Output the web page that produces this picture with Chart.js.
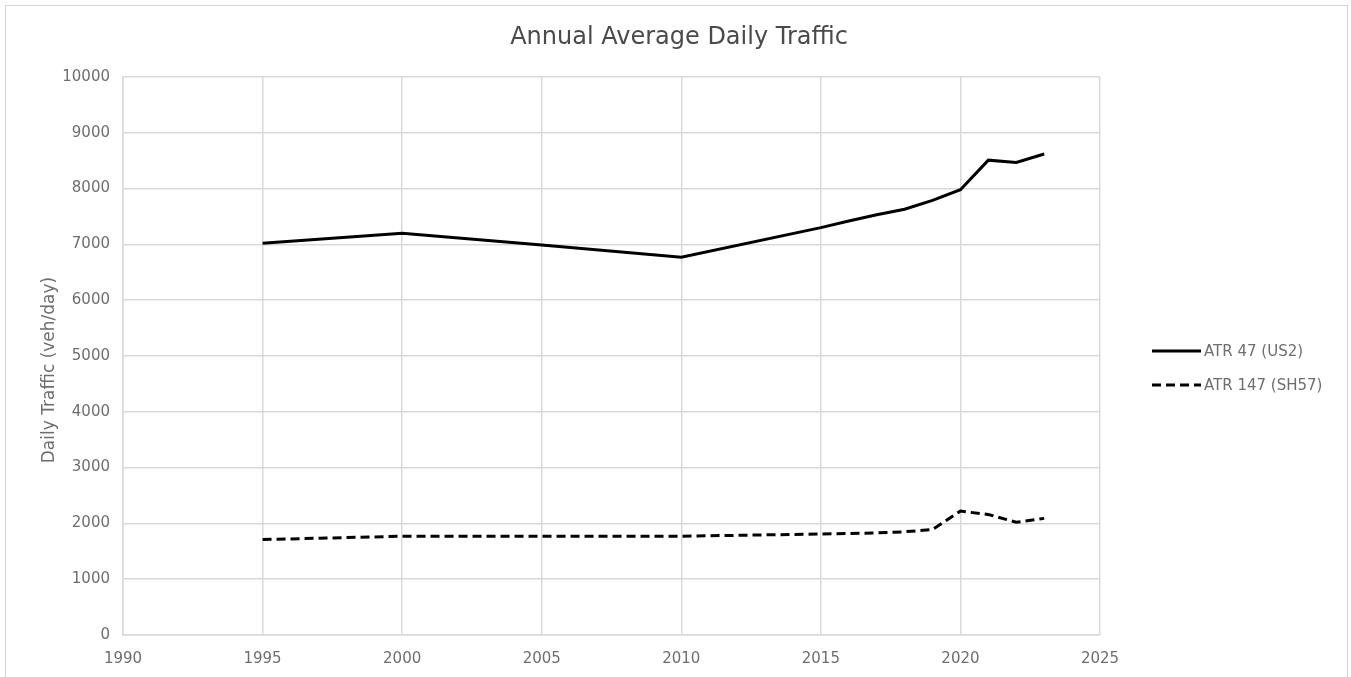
<!DOCTYPE html>
<html>
<head>
<meta charset="utf-8">
<script src="https://cdn.jsdelivr.net/npm/chart.js@4/dist/chart.umd.min.js"></script>
<style>
  html, body { margin: 0; padding: 0; background: #fff; }
  #frame { position: absolute; left: 5px; top: 5px; width: 1341px; height: 700px; border: 1px solid #d4d4d4; }
  #wrap { position: absolute; left: 0; top: 0; width: 1351px; height: 677px; }
</style>
</head>
<body>
<div id="frame"></div>
<div id="wrap"><canvas id="c" width="1351" height="677"></canvas></div>
<script>
const atr47Years  = [1995, 2000, 2005, 2010, 2015, 2016, 2017, 2018, 2019, 2020, 2021, 2022, 2023];
const atr47Values = [7020, 7200, 6990, 6770, 7300, 7420, 7530, 7630, 7790, 7980, 8510, 8470, 8620];
const atr147Years  = [1995, 2000, 2005, 2010, 2015, 2016, 2017, 2018, 2019, 2020, 2021, 2022, 2023];
const atr147Values = [1710, 1770, 1770, 1770, 1810, 1820, 1830, 1850, 1890, 2220, 2160, 2020, 2090];
const seriesLabels = ['ATR 47 (US2)', 'ATR 147 (SH57)'];
const chartTitle = 'Annual Average Daily Traffic';
const yAxisTitle = 'Daily Traffic (veh/day)';
const xTicks = [1990, 1995, 2000, 2005, 2010, 2015, 2020, 2025];
const yTicks = [0, 1000, 2000, 3000, 4000, 5000, 6000, 7000, 8000, 9000, 10000];

const textColor = '#6e6e6e';
const gridColor = '#d9d9d9';
const fontFamily = '"DejaVu Sans", "Liberation Sans", Arial, sans-serif';

const toPts = (xs, ys) => xs.map((x, i) => ({ x: x, y: ys[i] }));

const decorPlugin = {
  id: 'decor',
  afterDraw(chart) {
    const ctx = chart.ctx;
    ctx.save();
    // title
    ctx.fillStyle = '#4a4a4a';
    ctx.font = '24px ' + fontFamily;
    ctx.textAlign = 'center';
    ctx.textBaseline = 'middle';
    ctx.fillText(chartTitle, 679, 38);
    // y-axis title
    ctx.save();
    ctx.translate(50, 370);
    ctx.rotate(-Math.PI / 2);
    ctx.fillStyle = textColor;
    ctx.font = '17px ' + fontFamily;
    ctx.fillText(yAxisTitle, 0, 0);
    ctx.restore();
    // legend
    const x0 = 1152, x1 = 1201;
    const ys = [351, 385];
    chart.data.datasets.forEach((ds, i) => {
      ctx.beginPath();
      ctx.strokeStyle = ds.borderColor;
      ctx.lineWidth = ds.borderWidth;
      ctx.setLineDash(ds.borderDash || []);
      ctx.moveTo(x0, ys[i]);
      ctx.lineTo(x1, ys[i]);
      ctx.stroke();
      ctx.setLineDash([]);
      ctx.fillStyle = textColor;
      ctx.font = '15px ' + fontFamily;
      ctx.textBaseline = 'middle';
      ctx.textAlign = 'left';
      ctx.fillText(ds.label, x1 + 3, ys[i] + 1);
    });
    ctx.restore();
  }
};

new Chart(document.getElementById('c'), {
  type: 'line',
  data: {
    datasets: [
      {
        label: seriesLabels[0],
        data: toPts(atr47Years, atr47Values),
        borderColor: '#000',
        borderWidth: 3,
        pointRadius: 0,
        tension: 0,
        fill: false
      },
      {
        label: seriesLabels[1],
        data: toPts(atr147Years, atr147Values),
        borderColor: '#000',
        borderWidth: 3,
        borderDash: [9, 5],
        pointRadius: 0,
        tension: 0,
        fill: false
      }
    ]
  },
  options: {
    responsive: false,
    animation: false,
    layout: { padding: { left: 0, right: 251, top: 77, bottom: 0 } },
    plugins: {
      legend: { display: false },
      tooltip: { enabled: false },
      title: { display: false }
    },
    scales: {
      x: {
        type: 'linear',
        min: xTicks[0],
        max: xTicks[xTicks.length - 1],
        afterBuildTicks: (s) => { s.ticks = xTicks.map(v => ({ value: v })); },
        afterFit: (s) => { s.height = 42; },
        ticks: {
          color: textColor,
          font: { family: fontFamily, size: 15 },
          padding: 15,
          maxRotation: 0,
          callback: (v) => String(v)
        },
        grid: { color: gridColor, lineWidth: 1.5, drawTicks: false },
        border: { color: gridColor, width: 1.5 }
      },
      y: {
        min: yTicks[0],
        max: yTicks[yTicks.length - 1],
        afterBuildTicks: (s) => { s.ticks = yTicks.map(v => ({ value: v })); },
        afterFit: (s) => { s.width = 123; },
        ticks: {
          color: textColor,
          font: { family: fontFamily, size: 15 },
          padding: 13,
          callback: (v) => String(v)
        },
        title: { display: false },
        grid: { color: gridColor, lineWidth: 1.5, drawTicks: false },
        border: { color: gridColor, width: 1.5 }
      }
    }
  },
  plugins: [decorPlugin]
});
</script>
</body>
</html>
